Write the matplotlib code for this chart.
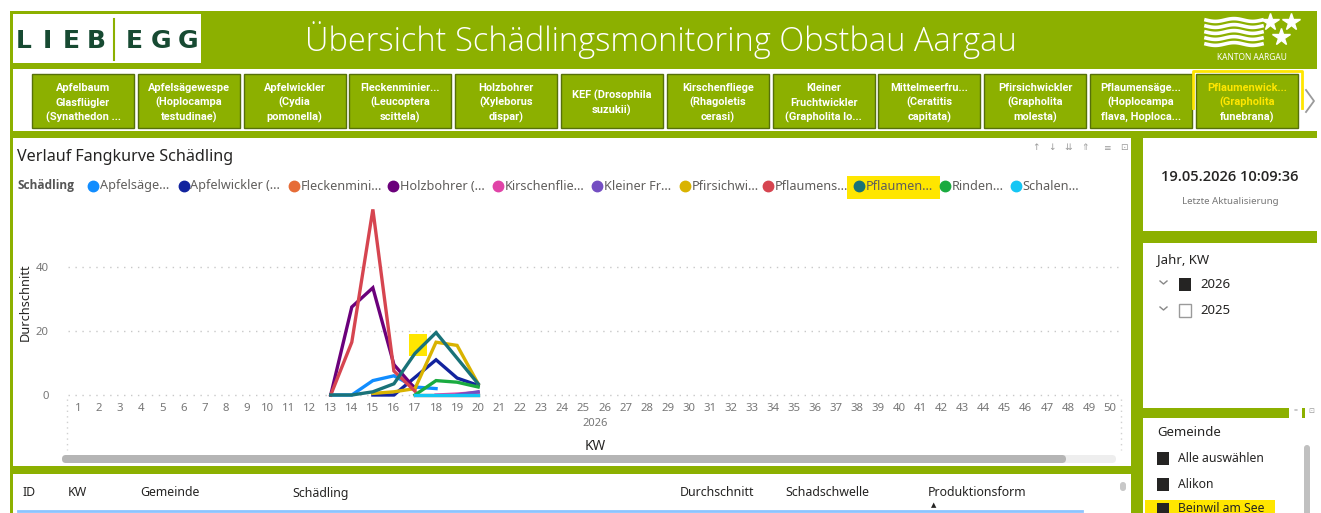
import numpy as np
import matplotlib
matplotlib.use("Agg")
import matplotlib.pyplot as plt
from matplotlib.patches import Rectangle, FancyBboxPatch

# ---------------- data ----------------
kw_ticks = list(range(1, 51))
y_ticks = [0, 20, 40]

legend_labels = ["Apfelsäge...", "Apfelwickler (...", "Fleckenmini...", "Holzbohrer (...",
                 "Kirschenflie...", "Kleiner Fr...", "Pfirsichwi...", "Pflaumens...",
                 "Pflaumen...", "Rinden...", "Schalen..."]
legend_colors = ["#118DFF", "#12239E", "#E66C37", "#6B007B", "#E044A7", "#744EC2",
                 "#D9B300", "#D64550", "#197278", "#1AAB40", "#15C6F4"]

apfelsaegewespe_kw = [13, 14, 15, 16, 17, 18]
apfelsaegewespe = [0, 0, 4.5, 6, 2.5, 2]
apfelwickler_kw = [15, 16, 17, 18, 19, 20]
apfelwickler = [0, 0, 5.5, 11, 5.3, 3]
fleckenminier_kw = [17, 18, 19, 20]
fleckenminier = [0, 0, 0, 0]
holzbohrer_kw = [13, 14, 15, 16, 17]
holzbohrer = [0, 27.5, 33.5, 9.5, 2]
kirschenfliege_kw = [18, 19, 20]
kirschenfliege = [0, 0.3, 0.8]
kleiner_fw_kw = [19, 20]
kleiner_fw = [0, 1]
pfirsichwickler_kw = [15, 16, 17, 18, 19, 20]
pfirsichwickler = [0.5, 1, 2, 16.5, 15.5, 3.5]
pflaumensaegewespe_kw = [13, 14, 15, 16, 17]
pflaumensaegewespe = [0, 16.5, 58, 7.5, 1.2]
pflaumenwickler_kw = [13, 14, 15, 16, 17, 18, 19, 20]
pflaumenwickler = [0, 0, 1, 3.5, 13, 19.5, 11.5, 3.5]
rindenwickler_kw = [17, 18, 19, 20]
rindenwickler = [0, 4.5, 4, 2.5]
schalenwickler_kw = [17, 18, 19, 20]
schalenwickler = [0, 0, 0, 0]

series = [
    (apfelsaegewespe_kw, apfelsaegewespe),
    (apfelwickler_kw, apfelwickler),
    (fleckenminier_kw, fleckenminier),
    (holzbohrer_kw, holzbohrer),
    (kirschenfliege_kw, kirschenfliege),
    (kleiner_fw_kw, kleiner_fw),
    (pfirsichwickler_kw, pfirsichwickler),
    (pflaumensaegewespe_kw, pflaumensaegewespe),
    (pflaumenwickler_kw, pflaumenwickler),
    (rindenwickler_kw, rindenwickler),
    (schalenwickler_kw, schalenwickler),
]

buttons = [
    ["Apfelbaum", "Glasflügler", "(Synathedon ..."],
    ["Apfelsägewespe", "(Hoplocampa", "testudinae)"],
    ["Apfelwickler", "(Cydia", "pomonella)"],
    ["Fleckenminier...", "(Leucoptera", "scittela)"],
    ["Holzbohrer", "(Xyleborus", "dispar)"],
    ["KEF (Drosophila", "suzukii)"],
    ["Kirschenfliege", "(Rhagoletis", "cerasi)"],
    ["Kleiner", "Fruchtwickler", "(Grapholita lo..."],
    ["Mittelmeerfru...", "(Ceratitis", "capitata)"],
    ["Pfirsichwickler", "(Grapholita", "molesta)"],
    ["Pflaumensäge...", "(Hoplocampa", "flava, Hoploca..."],
    ["Pflaumenwick...", "(Grapholita", "funebrana)"],
]

table_headers = ["ID", "KW", "Gemeinde", "Schädling", "Durchschnitt", "Schadschwelle", "Produktionsform"]
gemeinden = ["Alle auswählen", "Alikon", "Beinwil am See"]
jahre = ["2026", "2025"]

# ---------------- style ----------------
W, H = 1321, 513
GREEN = "#8CB000"
DARK = "#252423"
YEL = "#FFE600"
FONT = "Noto Sans"
plt.rcParams['font.family'] = [FONT, 'DejaVu Sans']

fig = plt.figure(figsize=(W / 100, H / 100), dpi=100)
bg = fig.add_axes([0, 0, 1, 1], zorder=0)
bg.set_xlim(0, W)
bg.set_ylim(H, 0)
bg.axis("off")


def rect(x0, y0, x1, y1, fc, ec="none", lw=0, z=1, **kw):
    bg.add_patch(Rectangle((x0, y0), x1 - x0, y1 - y0, facecolor=fc, edgecolor=ec,
                           linewidth=lw, zorder=z, **kw))


# page frame
rect(0, 0, W, H, "white", z=0)
rect(10, 11, 1317, H, GREEN, z=0.5)

# header logo
rect(13, 14, 201, 63, "white", z=1)
for ch, x in zip("LIEB", [24, 47, 71, 96]):
    bg.text(x, 41, ch, fontsize=18, fontweight="bold", color="#174A32", ha="center",
            va="center", family="DejaVu Sans", zorder=2)
for ch, x in zip("EGG", [134, 161, 188]):
    bg.text(x, 41, ch, fontsize=18, fontweight="bold", color="#174A32", ha="center",
            va="center", family="DejaVu Sans", zorder=2)
bg.plot([114, 114], [19, 60], color=GREEN, lw=1.5, zorder=2)

bg.text(661, 40, "Übersicht Schädlingsmonitoring Obstbau Aargau", fontsize=23.5,
        color="white", ha="center", va="center", family="Open Sans", fontweight="light", zorder=2)

# Kanton Aargau logo
xs = np.linspace(1206, 1262, 60)
for k in range(5):
    bg.plot(xs, 20 + 6 * k + 1.4 * np.sin((xs - 1206) / 56 * 2 * np.pi * 1.5), color="white",
            lw=2.6, zorder=2)
bg.plot([1270, 1291, 1281], [22, 22, 37], marker="*", ls="none", color="white",
        markersize=13, zorder=2)
bg.text(1252, 57, "KANTON AARGAU", fontsize=6, color="white", ha="center", va="center", zorder=2)

# button row
rect(13, 69, 1317, 131, "white", z=1)
for i, lines in enumerate(buttons):
    cx = 83 + i * 105.8
    rect(cx - 51, 74, cx + 51, 128, GREEN, ec="#56700A", lw=1.0, z=2)
    n = len(lines)
    ys = [88, 102.5, 117] if n == 3 else [95, 110]
    for j, (t, yy) in enumerate(zip(lines, ys)):
        col = "white"
        if i == len(buttons) - 1 and j < 2:
            col = YEL
        bg.text(cx, yy, t, fontsize=7.9, fontweight="bold", color=col, ha="center",
                va="center", family="Roboto", zorder=3)
# yellow outline on selected button
bg.plot([1193, 1193, 1302, 1302], [108, 71, 71, 108], color=YEL, lw=2, zorder=3)
bg.plot([1306, 1314, 1306], [90, 101, 112], color="#9A9A9A", lw=1.3, zorder=3)

# chart panel
rect(13, 138, 1131, 466, "white", z=1)
bg.text(17, 157, "Verlauf Fangkurve Schädling", fontsize=11.6, color=DARK, ha="left",
        va="center", zorder=2)
icons = ["↑", "↓", "⇊", "⇑", "≡", "⊡"]
for t, x in zip(icons, [1036, 1052, 1068, 1085, 1107, 1124]):
    bg.text(x, 148, t, fontsize=6.5, color="#9A9A9A", ha="center", va="center",
            family="DejaVu Sans", zorder=2)

# legend
rect(847, 176, 940, 199, YEL, z=1.5)
bg.text(17, 186, "Schädling", fontsize=8.6, fontweight="bold", color="#555555", ha="left",
        va="center", family=["Open Sans", "DejaVu Sans"], zorder=2)
leg_x = [93, 184, 294, 393, 498, 597, 685, 768, 859, 945, 1016]
for lab, col, x in zip(legend_labels, legend_colors, leg_x):
    bg.plot([x], [186], marker="o", markersize=7.5, color=col, ls="none", zorder=2)
    bg.text(x + 6.5, 186, lab, fontsize=9.1, color="#605E5C", ha="left", va="center", zorder=2)

# highlight square in plot (below lines)
rect(409, 334, 427, 356, YEL, z=1.5)

# axes
x0p, x1p, y0p, y1p = 68, 1120, 205, 398
ax = fig.add_axes([x0p / W, 1 - y1p / H, (x1p - x0p) / W, (y1p - y0p) / H], zorder=2)
ax.patch.set_alpha(0)
ppu_x = (1110 - 78) / 49
ax.set_xlim(1 - 10 / ppu_x, 50 + 10 / ppu_x)
ax.set_ylim(-(398 - 395) / 3.2, (395 - 205) / 3.2)
for (kw, vals), col in zip(series, legend_colors):
    ax.plot(kw, vals, color=col, lw=2.4, solid_joinstyle="miter", clip_on=False)
ax.set_xticks(kw_ticks)
ax.set_xticklabels([str(k) for k in kw_ticks])
ax.set_yticks(y_ticks)
ax.set_yticklabels([str(v) for v in y_ticks])
ax.tick_params(axis="both", length=0, labelsize=8.2, labelcolor="#777777")
ax.tick_params(axis="x", pad=3.5)
ax.tick_params(axis="y", pad=14)
for s in ax.spines.values():
    s.set_visible(False)
ax.grid(axis="y", linestyle=(0, (1, 4)), color="#C8C8C8", lw=1)
ax.set_axisbelow(True)

bg.text(25, 302, "Durchschnitt", fontsize=9.2, color=DARK, rotation=90, ha="center",
        va="center", zorder=2)
bg.text(595, 424, "2026", fontsize=8, color="#777777", ha="center", va="center", zorder=2)
bg.text(595, 447, "KW", fontsize=9.8, color=DARK, ha="center", va="center", zorder=2)
for xv in [67, 1121]:
    bg.plot([xv, xv], [399, 450], color="#D0D0D0", lw=1, ls=(0, (1, 3)), zorder=2)

# scrollbar
bg.add_patch(FancyBboxPatch((62, 455), 1054, 8, boxstyle="round,pad=0,rounding_size=4",
                            facecolor="#EEEEEE", edgecolor="none", zorder=2))
bg.add_patch(FancyBboxPatch((62, 455), 1004, 8, boxstyle="round,pad=0,rounding_size=4",
                            facecolor="#B5B5B5", edgecolor="none", zorder=3))

# table panel
rect(13, 474, 1131, H, "white", z=1)
for t, x in zip(table_headers, [23, 68, 140, 292, 680, 785, 928]):
    bg.text(x, 493, t, fontsize=8.9, color=DARK, ha="left", va="center", zorder=2)
bg.text(934, 505, "▲", fontsize=5, color=DARK, ha="center", va="center",
        family="DejaVu Sans", zorder=2)
bg.plot([18, 1082], [510.5, 510.5], color="#8CC4FF", lw=2, zorder=2)
bg.add_patch(FancyBboxPatch((1120, 482), 6, 9, boxstyle="round,pad=0,rounding_size=3",
                            facecolor="#C8C8C8", edgecolor="none", zorder=2))

# right panel 1
rect(1143, 138, 1317, 231, "white", z=1)
bg.text(1230, 177, "19.05.2026 10:09:36", fontsize=10.5, color=DARK, ha="center",
        va="center", fontweight="semibold", family=["Open Sans", "DejaVu Sans"], zorder=2)
bg.text(1230, 202, "Letzte Aktualisierung", fontsize=7, color="#777777", ha="center",
        va="center", zorder=2)

# right panel 2
rect(1143, 243, 1317, 408, "white", z=1)
bg.text(1157, 260, "Jahr, KW", fontsize=9.5, color=DARK, ha="left", va="center", zorder=2)
for k, (yr, yy) in enumerate(zip(jahre, [284, 310])):
    bg.plot([1160, 1163.5, 1167], [yy - 3, yy, yy - 3], color="#888888", lw=1, zorder=2)
    if k == 0:
        rect(1179, yy - 6.5, 1191, yy + 6.5, DARK, z=2)
    else:
        rect(1179, yy - 6.5, 1191, yy + 6.5, "white", ec="#9A9A9A", lw=1, z=2)
    bg.text(1200, yy, yr, fontsize=9.5, color=DARK, ha="left", va="center", zorder=2)
rect(1289, 405, 1302, 418, "white", z=1)
rect(1305, 405, 1317, 418, "white", z=1)
bg.text(1295.5, 411, "=", fontsize=5, color="#9A9A9A", ha="center", va="center", zorder=2)
bg.text(1311, 411, "⊡", fontsize=5, color="#9A9A9A", ha="center", va="center",
        family="DejaVu Sans", zorder=2)

# right panel 3
rect(1143, 418, 1317, H, "white", z=1)
rect(1145, 500, 1275, H, YEL, z=1.5)
bg.text(1157, 433, "Gemeinde", fontsize=9.5, color=DARK, ha="left", va="center", zorder=2)
for g, yy in zip(gemeinden, [458, 484, 509]):
    rect(1157, yy - 6.5, 1169, yy + 6.5, DARK, z=2)
    bg.text(1178, yy, g, fontsize=8.8, color=DARK, ha="left", va="center", zorder=2)
bg.add_patch(FancyBboxPatch((1304, 445), 6, 80, boxstyle="round,pad=0,rounding_size=3",
                            facecolor="#C0C0C0", edgecolor="none", zorder=2))

fig.savefig("out.png", dpi=100)
